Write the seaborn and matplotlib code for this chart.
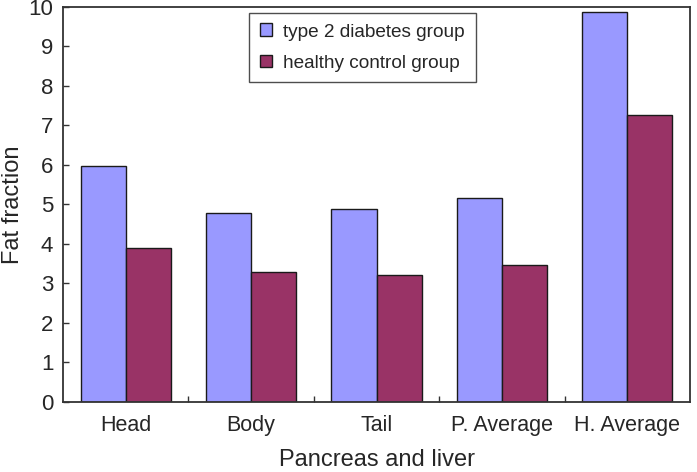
import pandas as pd
import seaborn as sns
from matplotlib import pyplot as plt
from matplotlib.ticker import FixedLocator

# values
regions = ["Head", "Body", "Tail", "P. Average", "H. Average"]
diabetes = [5.97, 4.78, 4.88, 5.17, 9.87]
healthy = [3.90, 3.30, 3.22, 3.47, 7.25]
groups = ["type 2 diabetes group", "healthy control group"]
colors = ["#9999FF", "#993366"]

sns.set_theme(style="white")
plt.rcParams['font.family'] = ['Liberation Sans', 'DejaVu Sans']

df = pd.DataFrame({
    'region': regions * 2,
    'group': [groups[0]] * len(regions) + [groups[1]] * len(regions),
    'fat': diabetes + healthy,
})

fig = plt.figure(figsize=(6.97, 4.72), dpi=100)
ax = fig.add_axes([0.0904, 0.1483, 0.8996, 0.8375])
sns.barplot(data=df, x='region', y='fat', hue='group', palette=colors,
            width=0.72, edgecolor='#1a1a1a', linewidth=1.0, saturation=1,
            ax=ax)

ax.set_ylim(0, 10)
ax.set_xlim(-0.5, len(regions) - 0.5)
ax.set_yticks(range(0, 11))
ax.tick_params(axis='y', direction='in', length=4, width=1, color='#333333',
               labelsize=16, pad=7, left=True)
# category ticks hidden, small inward ticks at the group boundaries
ax.tick_params(axis='x', which='major', length=0, labelsize=15.5, pad=9)
ax.xaxis.set_minor_locator(FixedLocator([0.5, 1.5, 2.5, 3.5]))
ax.tick_params(axis='x', which='minor', direction='in', length=4, width=1,
               color='#333333', bottom=True)
ax.set_xlabel("Pancreas and liver", fontsize=17)
ax.set_ylabel("Fat fraction", fontsize=17)
ax.xaxis.set_label_coords(0.5, -0.12)
ax.yaxis.set_label_coords(-0.062, 0.5)
for s in ax.spines.values():
    s.set_color('#333333')
    s.set_linewidth(1.3)

leg = ax.legend(loc='upper left', bbox_to_anchor=(0.297, 0.984), fontsize=13.7,
                frameon=True, fancybox=False, edgecolor='#222222',
                handlelength=0.65, handleheight=0.65, labelspacing=0.75,
                borderpad=0.55, handletextpad=0.6, borderaxespad=0)
leg.get_frame().set_linewidth(1.0)
for h in leg.legend_handles:
    h.set_edgecolor('#1a1a1a')

plt.savefig('out.png', dpi=100)
